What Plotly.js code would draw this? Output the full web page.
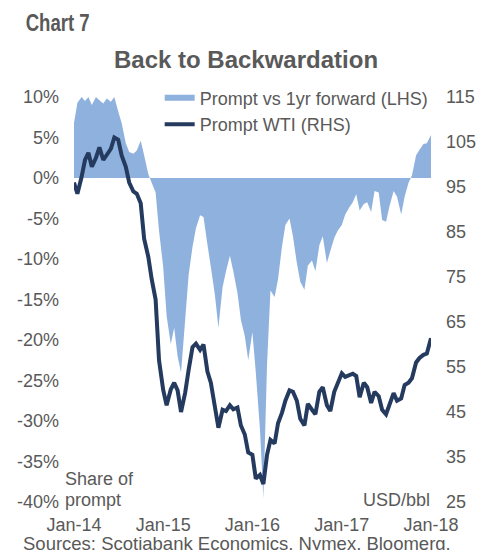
<!DOCTYPE html>
<html>
<head>
<meta charset="utf-8">
<script src="https://cdn.plot.ly/plotly-3.0.1.min.js"></script>
<style>html,body{margin:0;padding:0;background:#fff;}#chart{width:492px;height:550px;}</style>
</head>
<body>
<div id="chart"></div>
<script>
// Semi-monthly observation dates
const dates = [
'2014-01-01','2014-01-15','2014-02-01','2014-02-15','2014-03-01','2014-03-15','2014-04-01','2014-04-15','2014-05-01','2014-05-15','2014-06-01','2014-06-15','2014-07-01','2014-07-15','2014-08-01','2014-08-15','2014-09-01','2014-09-15','2014-10-01','2014-10-15','2014-11-01','2014-11-15','2014-12-01','2014-12-15',
'2015-01-01','2015-01-15','2015-02-01','2015-02-15','2015-03-01','2015-03-15','2015-04-01','2015-04-15','2015-05-01','2015-05-15','2015-06-01','2015-06-15','2015-07-01','2015-07-15','2015-08-01','2015-08-15','2015-09-01','2015-09-15','2015-10-01','2015-10-15','2015-11-01','2015-11-15','2015-12-01','2015-12-15',
'2016-01-01','2016-01-15','2016-02-01','2016-02-15','2016-03-01','2016-03-15','2016-04-01','2016-04-15','2016-05-01','2016-05-15','2016-06-01','2016-06-15','2016-07-01','2016-07-15','2016-08-01','2016-08-15','2016-09-01','2016-09-15','2016-10-01','2016-10-15','2016-11-01','2016-11-15','2016-12-01','2016-12-15',
'2017-01-01','2017-01-15','2017-02-01','2017-02-15','2017-03-01','2017-03-15','2017-04-01','2017-04-15','2017-05-01','2017-05-15','2017-06-01','2017-06-15','2017-07-01','2017-07-15','2017-08-01','2017-08-15','2017-09-01','2017-09-15','2017-10-01','2017-10-15','2017-11-01','2017-11-15','2017-12-01','2017-12-15',
'2018-01-01'
];

// Prompt vs 1yr forward, % of prompt (LHS)
const promptVsForward = [
6.8, 9.3, 10, 9.5, 10, 9, 10, 9.6, 9.2, 9.8, 9.4, 10, 8.2, 6.8, 4.3, 3.2, 3.0, 3.4, 4.6, 2.8, 0.5, -0.6, -1.8, -6.5,
-11, -17, -20.5, -18.5, -22, -24, -17.5, -12, -8.5, -6.2, -4.6, -4.8, -8.2, -11, -14.5, -18.5, -13.5, -11.5, -9.6, -11.5, -14.2, -17.5, -19.5, -22.5,
-19, -24, -31, -39.5, -23, -13.9, -14.7, -12.5, -8.5, -5.8, -5, -7.2, -10.5, -12.8, -13.8, -10.8, -10.2, -11.5, -8.3, -7.2, -10.5, -9, -7.4, -6.5,
-5.8, -4.5, -3.6, -3, -2, -4, -3.2, -3, -4.2, -1.6, -1.8, -5.2, -5.4, -3.5, -1.6, -2.3, -4.5, -2.3, -0.6, 0.3, 2.8, 3.5, 4.2, 4.3,
5.3
];

// Prompt WTI, USD/bbl (RHS)
const promptWTI = [
96, 93.5, 97.2, 101, 102.6, 99.5, 101.5, 103.8, 101, 102, 103.5, 106, 105.5, 102, 99.5, 96, 94, 93.5, 91.4, 83.5, 79.5, 74.5, 70, 56.5,
49.9, 46.5, 50, 51.5, 49.8, 45, 49.3, 54.3, 59.4, 60.2, 58.8, 60, 54, 51.5, 45.5, 41.5, 45.5, 45.2, 46.5, 45.6, 46, 42, 40, 36,
35.5, 30.2, 31, 29, 35.5, 38.8, 38, 42.5, 44.8, 47.5, 49.8, 49.5, 47.5, 43.5, 42, 46.8, 45.5, 44.5, 49.5, 50.5, 46.5, 45.2, 49.5, 51.5,
53.6, 52.8, 53.2, 53.5, 53, 48.3, 51.5, 50.5, 47, 49.5, 48.5, 45.5, 44.5, 46.5, 49.2, 47.5, 48, 51, 51.5, 52.5, 56, 57, 57.7, 58,
61.4
];

const seriesNames = ['Prompt vs 1yr forward (LHS)', 'Prompt WTI (RHS)'];
const leftTickVals = [10, 5, 0, -5, -10, -15, -20, -25, -30, -35, -40];
const leftTickText = ['10%', '5%', '0%', '-5%', '-10%', '-15%', '-20%', '-25%', '-30%', '-35%', '-40%'];
const rightTickVals = [115, 105, 95, 85, 75, 65, 55, 45, 35, 25];
const xRange = ['2014-01-01', '2018-01-01'];

const FONT = '"Liberation Sans", Arial, sans-serif';
const GREY = '#595959';

const traces = [
  {
    x: dates, y: promptVsForward, name: seriesNames[0], legendgroup: 'a',
    type: 'scatter', mode: 'none', fill: 'tozeroy',
    fillcolor: '#8FB1DD', xaxis: 'x', yaxis: 'y', hoverinfo: 'skip'
  },
  {
    x: dates, y: promptWTI, name: seriesNames[1], legendgroup: 'b',
    type: 'scatter', mode: 'lines',
    line: {color: '#243A5E', width: 4},
    xaxis: 'x', yaxis: 'y2', hoverinfo: 'skip'
  }
];

const layout = {
  width: 492, height: 550,
  margin: {l: 74, r: 61, t: 97, b: 48, pad: 0},
  paper_bgcolor: '#ffffff', plot_bgcolor: '#ffffff',
  font: {family: FONT, size: 18, color: GREY},
  title: {
    text: 'Back to Backwardation',
    font: {family: FONT, size: 24, color: GREY, weight: 'bold'},
    x: 0.5, xref: 'container', xanchor: 'center',
    y: 1 - 60 / 550, yref: 'container', yanchor: 'middle'
  },
  showlegend: true,
  legend: {
    x: 0.24, y: 1.043, xanchor: 'left', yanchor: 'top',
    bgcolor: 'rgba(0,0,0,0)', borderwidth: 0, tracegroupgap: 2,
    font: {family: FONT, size: 18, color: GREY},
    traceorder: 'normal'
  },
  xaxis: {
    type: 'date', range: xRange, tick0: '2014-01-01', dtick: 'M12', tickformat: '%b-%y',
    showgrid: false, zeroline: false, showline: false, ticks: '',
    ticklabelstandoff: 10, tickfont: {family: FONT, size: 18, color: GREY}, fixedrange: true
  },
  xaxis2: {
    type: 'date', range: xRange, tick0: '2014-01-01', dtick: 'M12',
    overlaying: 'x', anchor: 'free', position: 0.8,
    showgrid: false, zeroline: false, showline: true, linecolor: '#BFBFBF', linewidth: 2,
    ticks: 'outside', ticklen: 4, tickwidth: 1.5, tickcolor: '#BFBFBF',
    showticklabels: false, fixedrange: true
  },
  yaxis: {
    range: [-40, 10], tickvals: leftTickVals, ticktext: leftTickText,
    showgrid: false, zeroline: false, showline: false, ticks: '',
    ticklabelstandoff: 14, tickfont: {family: FONT, size: 18, color: GREY}, fixedrange: true
  },
  yaxis2: {
    range: [25, 115], tickvals: rightTickVals, overlaying: 'y', side: 'right',
    showgrid: false, zeroline: false, showline: false, ticks: '',
    ticklabelstandoff: 14, tickfont: {family: FONT, size: 18, color: GREY}, fixedrange: true
  },
  annotations: [
    {text: 'Chart 7', xref: 'paper', yref: 'paper', x: (16 - 74) / 357, y: (502 - 23) / 405,
     xanchor: 'left', yanchor: 'middle', showarrow: false,
     font: {family: FONT, size: 23, color: GREY, weight: 'bold'}},
    {text: 'Share of', xref: 'paper', yref: 'paper', x: (63 - 74) / 357, y: (502 - 479) / 405,
     xanchor: 'left', yanchor: 'middle', showarrow: false, font: {family: FONT, size: 18, color: GREY}},
    {text: 'prompt', xref: 'paper', yref: 'paper', x: (63 - 74) / 357, y: (502 - 500) / 405,
     xanchor: 'left', yanchor: 'middle', showarrow: false, font: {family: FONT, size: 18, color: GREY}},
    {text: 'USD/bbl', xref: 'paper', yref: 'paper', x: (432 - 74) / 357, y: (502 - 500) / 405,
     xanchor: 'right', yanchor: 'middle', showarrow: false, font: {family: FONT, size: 18, color: GREY}},
    {text: 'Sources: Scotiabank Economics, Nymex, Bloomerg.', xref: 'paper', yref: 'paper',
     x: (21 - 74) / 357, y: (502 - 543) / 405, xanchor: 'left', yanchor: 'middle', showarrow: false,
     font: {family: FONT, size: 18.5, color: GREY}}
  ]
};

Plotly.newPlot('chart', traces, layout, {displayModeBar: false, staticPlot: true}).then(function (gd) {
  // Condense the "Chart 7" label to match the narrow face used in the original
  gd.querySelectorAll('.annotation-text').forEach(function (t) {
    if (t.textContent === 'Chart 7') {
      t.setAttribute('textLength', '64');
      t.setAttribute('lengthAdjust', 'spacingAndGlyphs');
    }
  });
});
</script>
</body>
</html>
